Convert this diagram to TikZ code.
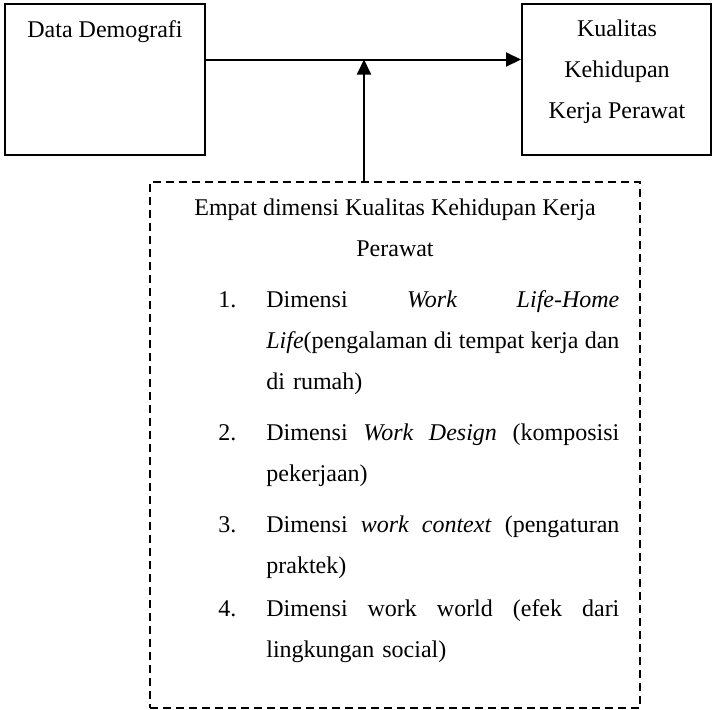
\documentclass[tikz,border=0pt]{standalone}
\usepackage{fontspec}
\setmainfont{Liberation Serif}
\usetikzlibrary{arrows.meta}

\tikzset{
  kotak/.style={draw, line width=1pt, inner sep=0pt},
  putus/.style={draw, line width=0.75pt, dash pattern=on 4pt off 2.5pt, inner sep=0pt},
  teks/.style={inner sep=0pt, font=\fontsize{12}{20.5}\selectfont},
  butir/.style={teks, anchor=base west, text width=176.5pt, align=left},
  panah/.style={line width=1pt, -{Triangle[length=7.5pt,width=7pt]}},
}
% one justified line of a list item
\newcommand\isi[1]{\leavevmode\hbox to 176.5pt{\spaceskip=3pt plus 20pt minus 1.2pt #1}}

\begin{document}
\begin{tikzpicture}[x=0.5pt, y=-0.5pt]
\useasboundingbox (0,0) rectangle (712,709);

% boxes
\node[kotak, minimum width=100pt, minimum height=75.5pt] (demo) at (105,79.5) {};
\node[kotak, minimum width=94.5pt, minimum height=75.5pt] (kualitas) at (616.5,79.5) {};
\node[putus, minimum width=245pt, minimum height=263pt] (dimensi) at (395,445) {};

% texts (base = last line for centred nodes)
\node[teks, anchor=base] (demo-t) at (105,37) {Data Demografi};
\node[teks, anchor=base, align=center] (kualitas-t) at (617,118) {Kualitas\\Kehidupan\\Kerja Perawat};
\node[teks, anchor=base, align=center] (judul) at (395,256) {Empat dimensi Kualitas Kehidupan Kerja\\Perawat};

\node[teks, anchor=base west] (n1) at (218,307) {1.};
\node[butir] (i1) at (266,307) {\isi{Dimensi \textit{Work} \textit{Life-Home}}\\\isi{\textit{Life}(pengalaman di tempat kerja dan}\\di rumah)};
\node[teks, anchor=base west] (n2) at (218,440) {2.};
\node[butir] (i2) at (266,440) {\isi{Dimensi \textit{Work Design} (komposisi}\\pekerjaan)};
\node[teks, anchor=base west] (n3) at (218,532) {3.};
\node[butir] (i3) at (266,532) {\isi{Dimensi \textit{work context} (pengaturan}\\praktek)};
\node[teks, anchor=base west] (n4) at (218,616) {4.};
\node[butir] (i4) at (266,616) {\isi{Dimensi work world (efek dari}\\lingkungan social)};

% arrows
\coordinate (temu) at (364,59.5);
\draw[panah] (demo.east |- temu) -- (kualitas.west |- temu);
\draw[panah] (dimensi.north -| temu) -- (temu);
\end{tikzpicture}
\end{document}
